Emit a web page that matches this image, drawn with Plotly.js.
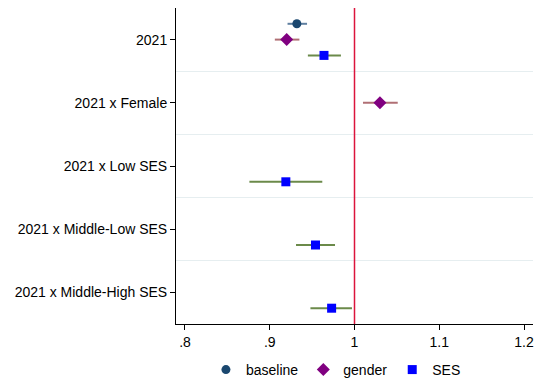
<!DOCTYPE html>
<html><head><meta charset="utf-8">
<script src="https://cdn.plot.ly/plotly-3.0.1.min.js"></script>
<style>html,body{margin:0;padding:0;background:#fff}#c{width:542px;height:383px}</style>
</head><body><div id="c"></div>
<script>
const categories = ["2021", "2021 x Female", "2021 x Low SES", "2021 x Middle-Low SES", "2021 x Middle-High SES"];
const tickLabels = [".8", ".9", "1", "1.1", "1.2"];
const tickValues = [0.8, 0.9, 1.0, 1.1, 1.2];

// baseline
const baseCat = [0];
const baseEst = [0.932];
const baseLo = [0.921];
const baseHi = [0.944];
// gender
const genCat = [0, 1];
const genEst = [0.920, 1.030];
const genLo = [0.906, 1.010];
const genHi = [0.935, 1.051];
// SES
const sesCat = [0, 2, 3, 4];
const sesEst = [0.964, 0.919, 0.954, 0.973];
const sesLo = [0.945, 0.876, 0.931, 0.948];
const sesHi = [0.984, 0.962, 0.977, 0.997];

const refLine = 1;

function mk(name, cats, est, lo, hi, offset, symbol, mcolor, ecolor, size){
  return {
    type: "scatter", mode: "markers", name: name,
    x: est, y: cats.map(c => c + offset),
    error_x: {type: "data", symmetric: false,
      array: est.map((e,i) => hi[i]-e), arrayminus: est.map((e,i) => e-lo[i]),
      color: ecolor, thickness: 2, width: 0},
    marker: {symbol: symbol, color: mcolor, size: size},
    hoverinfo: "skip"
  };
}

const traces = [
  mk("baseline", baseCat, baseEst, baseLo, baseHi, -0.25, "circle", "#1a476f", "#5f7fa0", 9),
  mk("gender", genCat, genEst, genLo, genHi, 0, "diamond", "#800080", "#b06f74", 10),
  mk("SES", sesCat, sesEst, sesLo, sesHi, 0.25, "square", "#0000ff", "#6b8a4a", 9)
];

const layout = {
  width: 542, height: 383,
  margin: {l: 176, r: 9, t: 8, b: 59, autoexpand: false},
  paper_bgcolor: "#fff", plot_bgcolor: "#fff",
  font: {family: "Liberation Sans, Arial, sans-serif", size: 14, color: "#000"},
  showlegend: true,
  legend: {orientation: "h", xref: "paper", x: 0.448, xanchor: "center",
    yref: "container", y: 0.034, yanchor: "middle",
    font: {size: 14}, itemwidth: 30, tracegroupgap: 0},
  xaxis: {range: [0.7894, 1.2106], tickvals: tickValues, ticktext: tickLabels,
    showgrid: false, zeroline: false, showline: true, linecolor: "#000", linewidth: 1,
    ticks: "outside", ticklen: 5, tickcolor: "#000", fixedrange: true, automargin: false},
  yaxis: {range: [4.5, -0.5], tickvals: categories.map((c,i) => i), ticktext: categories,
    showgrid: false, zeroline: false, showline: true, linecolor: "#000", linewidth: 1,
    ticks: "outside", ticklen: 5, tickcolor: "#000", automargin: false,
    minor: {tick0: 0.5, dtick: 1, showgrid: true, gridcolor: "#e6eef0", gridwidth: 1, ticks: ""},
    fixedrange: true},
  shapes: [{type: "line", xref: "x", yref: "paper", x0: refLine, x1: refLine, y0: 0, y1: 1,
    line: {color: "#dc143c", width: 1.5}}]
};

Plotly.newPlot("c", traces, layout, {staticPlot: true});
</script></body></html>
